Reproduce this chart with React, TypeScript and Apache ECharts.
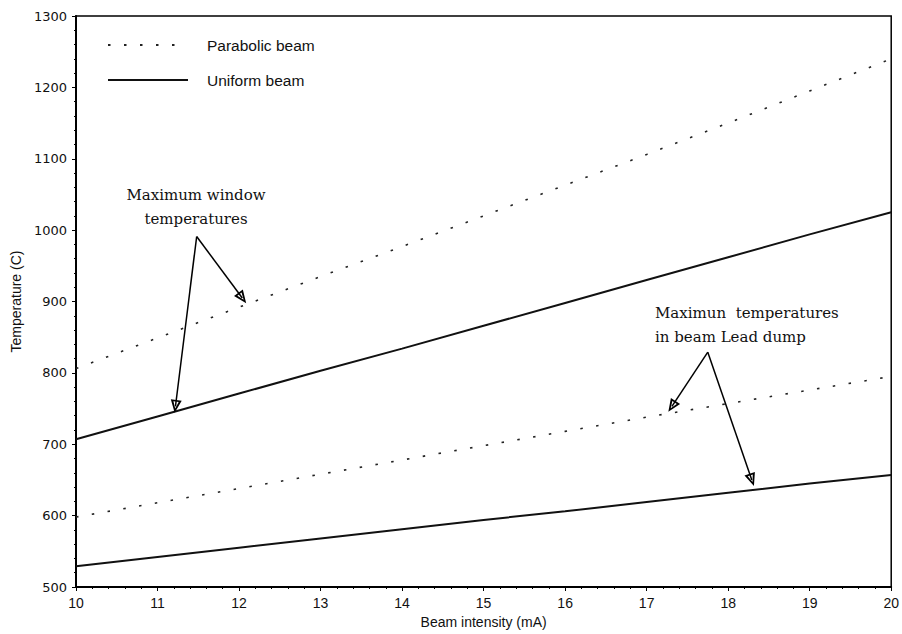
import React, { useEffect, useRef } from "react";
import * as echarts from "echarts";

const beam = [10, 11, 12, 13, 14, 15, 16, 17, 18, 19, 20];
const parabolicWindow = [806, 849, 892, 935, 977, 1020, 1063, 1106, 1150, 1195, 1240];
const uniformWindow = [707, 739, 771, 803, 834, 866, 898, 930, 962, 994, 1025];
const parabolicDump = [598, 618, 638, 658, 678, 698, 718, 738, 757, 776, 795];
const uniformDump = [529, 542, 555, 568, 581, 594, 606, 619, 632, 645, 657];

const xTicks = { min: 10, max: 20, interval: 1 };
const yTicks = { min: 500, max: 1300, interval: 100 };

// annotation arrows: [from, to] in data units
const windowArrows = [
  [[11.48, 991], [12.04, 905]],
  [[11.48, 991], [11.22, 753]],
];
const dumpArrows = [
  [[17.75, 829], [17.31, 753]],
  [[17.75, 829], [18.29, 650]],
];

const pairs = (ys: number[]) => beam.map((x, i) => [x, ys[i]]);

const HOLLOW_TRI = "path://M5,0L10,12L0,12Z M5,4L2.6,10.4L7.4,10.4Z";

export default function App() {
  const ref = useRef<HTMLDivElement>(null);
  useEffect(() => {
    if (!ref.current) return;
    const chart = echarts.init(ref.current, null, { renderer: "svg" });
    const dotted = { color: "#222", width: 1.6, type: [2.5, 13.5] as any };
    const solid = { color: "#111", width: 2, type: "solid" as any };
    const arrowData = [...windowArrows, ...dumpArrows].map(([a, b]) => [
      { coord: a },
      { coord: b },
    ]);
    chart.setOption({
      animation: false,
      backgroundColor: "#fff",
      grid: {
        left: 76,
        right: 7,
        top: 16,
        bottom: 46,
        show: true,
        borderColor: "#000",
        borderWidth: 1.5,
      },
      legend: {
        data: ["Parabolic beam", "Uniform beam"],
        orient: "vertical",
        left: 107,
        top: 37,
        padding: 0,
        itemWidth: 80,
        itemHeight: 14,
        itemGap: 19,
        itemStyle: { opacity: 0 },
        textStyle: {
          fontFamily: "Liberation Sans",
          fontSize: 15.5,
          color: "#111",
          padding: [0, 0, 0, 14],
        },
      },
      xAxis: {
        type: "value",
        min: xTicks.min,
        max: xTicks.max,
        interval: xTicks.interval,
        name: "Beam intensity (mA)",
        nameLocation: "middle",
        nameGap: 28,
        nameTextStyle: { fontFamily: "Liberation Sans", fontSize: 14, color: "#111" },
        axisLine: { lineStyle: { color: "#000", width: 2 } },
        axisTick: { show: true, length: 4, lineStyle: { color: "#000" } },
        minorTick: { show: true, splitNumber: 5, length: 2, lineStyle: { color: "#000" } },
        splitLine: { show: false },
        axisLabel: { fontFamily: "Liberation Sans", fontSize: 14, color: "#111", margin: 9 },
      },
      yAxis: {
        type: "value",
        min: yTicks.min,
        max: yTicks.max,
        interval: yTicks.interval,
        name: "Temperature (C)",
        nameLocation: "middle",
        nameRotate: 90,
        nameGap: 49,
        nameTextStyle: { fontFamily: "Liberation Sans", fontSize: 14, color: "#111" },
        axisLine: { show: true, lineStyle: { color: "#000", width: 2 } },
        axisTick: { show: true, length: 4, lineStyle: { color: "#000" } },
        minorTick: { show: true, splitNumber: 5, length: 2, lineStyle: { color: "#000" } },
        splitLine: { show: false },
        axisLabel: {
          fontFamily: "DejaVu Sans",
          fontSize: 13,
          color: "#111",
          margin: 9,
          formatter: (v: number) => String(v),
        },
      },
      series: [
        {
          name: "Parabolic beam",
          type: "line",
          data: pairs(parabolicWindow),
          showSymbol: false,
          symbol: "none",
          lineStyle: dotted,
          itemStyle: { color: "#222" },
          silent: true,
        },
        {
          name: "Uniform beam",
          type: "line",
          data: pairs(uniformWindow),
          showSymbol: false,
          symbol: "none",
          lineStyle: solid,
          itemStyle: { color: "#111" },
          silent: true,
          markLine: {
            silent: true,
            symbol: ["none", HOLLOW_TRI],
            symbolSize: [11, 13],
            label: { show: false },
            lineStyle: { color: "#000", width: 1.5, type: "solid" },
            itemStyle: { color: "#000" },
            emphasis: { disabled: true },
            data: arrowData,
          },
        },
        {
          name: "Parabolic beam",
          type: "line",
          data: pairs(parabolicDump),
          showSymbol: false,
          symbol: "none",
          lineStyle: dotted,
          itemStyle: { color: "#222" },
          silent: true,
        },
        {
          name: "Uniform beam",
          type: "line",
          data: pairs(uniformDump),
          showSymbol: false,
          symbol: "none",
          lineStyle: solid,
          itemStyle: { color: "#111" },
          silent: true,
        },
      ],
      graphic: [
        {
          type: "text",
          x: 196,
          y: 195,
          style: {
            text: "Maximum window",
            font: "15px 'DejaVu Serif'",
            fill: "#111",
            textAlign: "center",
            textVerticalAlign: "middle",
          },
        },
        {
          type: "text",
          x: 196,
          y: 219,
          style: {
            text: "temperatures",
            font: "15px 'DejaVu Serif'",
            fill: "#111",
            textAlign: "center",
            textVerticalAlign: "middle",
          },
        },
        {
          type: "text",
          x: 655,
          y: 313,
          style: {
            text: "Maximun  temperatures",
            font: "15px 'DejaVu Serif'",
            fill: "#111",
            textAlign: "left",
            textVerticalAlign: "middle",
          },
        },
        {
          type: "text",
          x: 655,
          y: 337,
          style: {
            text: "in beam Lead dump",
            font: "15px 'DejaVu Serif'",
            fill: "#111",
            textAlign: "left",
            textVerticalAlign: "middle",
          },
        },
      ],
    });
    return () => chart.dispose();
  }, []);
  return (
    <div
      ref={ref}
      style={{ position: "absolute", left: 0, top: 0, width: 902, height: 634 }}
    />
  );
}
